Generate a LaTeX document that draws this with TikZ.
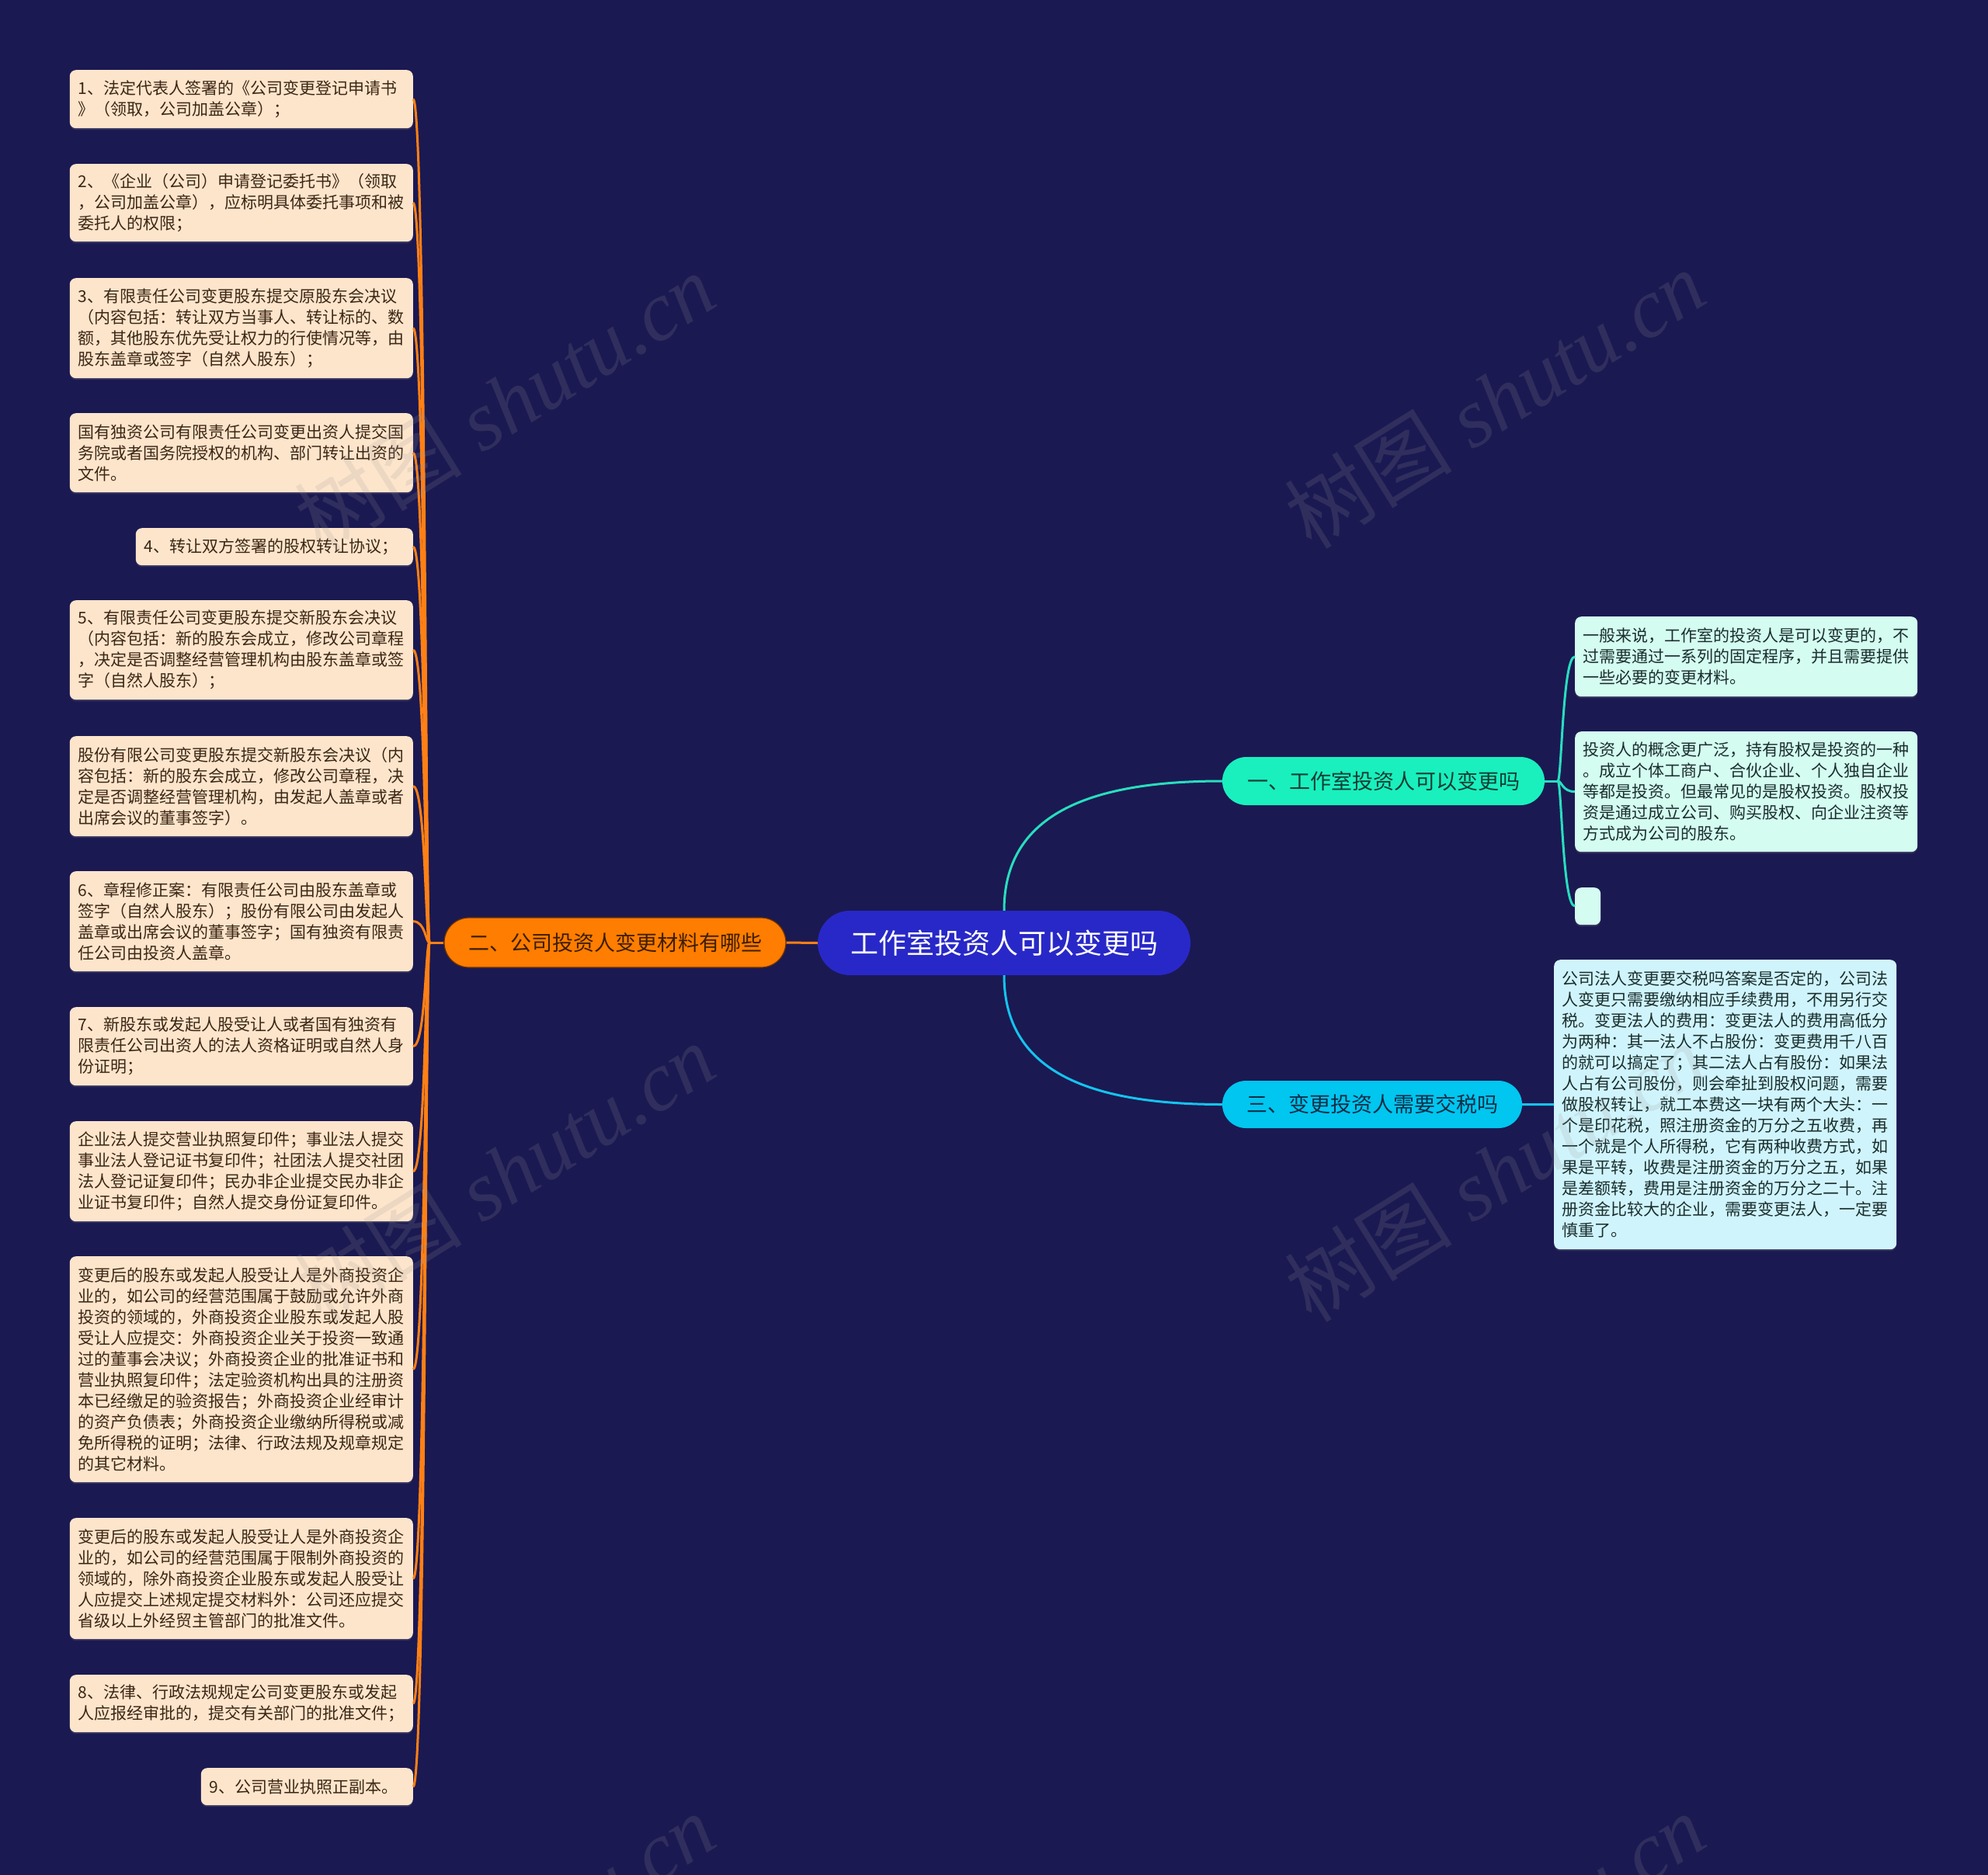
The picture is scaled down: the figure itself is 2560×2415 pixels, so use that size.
\documentclass[tikz,border=0pt]{standalone}
\usepackage{fontspec}
\newfontfamily\cjk{Noto Sans CJK SC}
\newfontfamily\wmlatin{Liberation Serif}
\usetikzlibrary{shadows}
\definecolor{bg}{RGB}{27,25,82}
\definecolor{centerc}{RGB}{40,40,200}
\definecolor{orangec}{RGB}{255,125,0}
\definecolor{orangeline}{RGB}{255,128,20}
\definecolor{orangetext}{RGB}{60,30,0}
\definecolor{aquac}{RGB}{25,240,190}
\definecolor{aqualine}{RGB}{40,222,190}
\definecolor{aquatext}{RGB}{20,60,50}
\definecolor{skyc}{RGB}{0,198,240}
\definecolor{skyline}{RGB}{20,196,238}
\definecolor{skytext}{RGB}{15,45,70}
\definecolor{peach}{RGB}{253,229,204}
\definecolor{ltext}{RGB}{60,38,20}
\definecolor{mintbox}{RGB}{212,252,240}
\definecolor{cyanbox}{RGB}{208,244,252}
\definecolor{rtext}{RGB}{25,45,45}
\definecolor{wmgray}{RGB}{150,150,150}
\begin{document}
\begin{tikzpicture}[x=1pt,y=-1pt,
  boxshadow/.style={drop shadow={opacity=0.25,shadow xshift=0pt,shadow yshift=-2pt}},
  lbox/.style={fill=peach, rounded corners=8pt, align=left, text width=420pt,
    inner xsep=11pt, inner ysep=0pt, anchor=north east, text=ltext,
    font=\cjk\fontsize{21}{27}\selectfont, boxshadow},
  rbox/.style={fill=mintbox, rounded corners=8pt, align=left, text width=421pt,
    inner xsep=10pt, inner ysep=0pt, anchor=north west, text=rtext,
    font=\cjk\fontsize{21}{27}\selectfont, boxshadow},
  pill/.style={inner sep=0pt, align=center},
  oline/.style={draw=orangeline, line width=3pt},
  aline/.style={draw=aqualine, line width=3pt},
  sline/.style={draw=skyline, line width=3pt},
  wm/.style={text=wmgray, opacity=0.17, rotate=32, inner sep=0pt}
]
\useasboundingbox (0,0) rectangle (2560,2415);
\fill[bg] (0,0) rectangle (2560,2415);

% ---------- main nodes ----------
\node[pill, fill=centerc, text=white, minimum width=480pt, minimum height=83pt,
  rounded corners=41.5pt, font=\cjk\fontsize{36}{40}\selectfont] (c) at (1293,1214.5) {工作室投资人可以变更吗};
\node[pill, fill=orangec, draw={rgb,255:red,110;green,50;blue,0}, line width=1.2pt, text=orangetext,
  minimum width=440pt, minimum height=64pt, rounded corners=32pt,
  font=\cjk\fontsize{27}{32}\selectfont] (n2) at (792,1214) {二、公司投资人变更材料有哪些};
\node[pill, fill=aquac, text=aquatext, minimum width=415pt, minimum height=62pt,
  rounded corners=31pt, font=\cjk\fontsize{27}{32}\selectfont] (n1) at (1781.5,1006) {一、工作室投资人可以变更吗};
\node[pill, fill=skyc, text=skytext, minimum width=386pt, minimum height=61pt,
  rounded corners=30.5pt, font=\cjk\fontsize{27}{32}\selectfont] (n3) at (1767,1422.5) {三、变更投资人需要交税吗};

% ---------- left boxes ----------
\node[lbox, minimum height=75pt] (b1) at (532,90) {1、法定代表人签署的《公司变更登记申请书\\》（领取，公司加盖公章）；};
\node[lbox, minimum height=100pt] (b2) at (532,211) {2、《企业（公司）申请登记委托书》（领取\\，公司加盖公章），应标明具体委托事项和被\\委托人的权限；};
\node[lbox, minimum height=129pt] (b3) at (532,358) {3、有限责任公司变更股东提交原股东会决议\\（内容包括：转让双方当事人、转让标的、数\\额，其他股东优先受让权力的行使情况等，由\\股东盖章或签字（自然人股东）；};
\node[lbox, minimum height=102pt] (b4) at (532,532) {国有独资公司有限责任公司变更出资人提交国\\务院或者国务院授权的机构、部门转让出资的\\文件。};
\node[lbox, text width=335pt, minimum height=48pt] (b5) at (532,680) {4、转让双方签署的股权转让协议；};
\node[lbox, minimum height=128pt] (b6) at (532,773) {5、有限责任公司变更股东提交新股东会决议\\（内容包括：新的股东会成立，修改公司章程\\，决定是否调整经营管理机构由股东盖章或签\\字（自然人股东）；};
\node[lbox, minimum height=129pt] (b7) at (532,948) {股份有限公司变更股东提交新股东会决议（内\\容包括：新的股东会成立，修改公司章程，决\\定是否调整经营管理机构，由发起人盖章或者\\出席会议的董事签字）。};
\node[lbox, minimum height=129pt] (b8) at (532,1122) {6、章程修正案：有限责任公司由股东盖章或\\签字（自然人股东）；股份有限公司由发起人\\盖章或出席会议的董事签字；国有独资有限责\\任公司由投资人盖章。};
\node[lbox, minimum height=101pt] (b9) at (532,1297) {7、新股东或发起人股受让人或者国有独资有\\限责任公司出资人的法人资格证明或自然人身\\份证明；};
\node[lbox, minimum height=129pt] (b10) at (532,1444) {企业法人提交营业执照复印件；事业法人提交\\事业法人登记证书复印件；社团法人提交社团\\法人登记证复印件；民办非企业提交民办非企\\业证书复印件；自然人提交身份证复印件。};
\node[lbox, minimum height=291pt] (b11) at (532,1618) {变更后的股东或发起人股受让人是外商投资企\\业的，如公司的经营范围属于鼓励或允许外商\\投资的领域的，外商投资企业股东或发起人股\\受让人应提交：外商投资企业关于投资一致通\\过的董事会决议；外商投资企业的批准证书和\\营业执照复印件；法定验资机构出具的注册资\\本已经缴足的验资报告；外商投资企业经审计\\的资产负债表；外商投资企业缴纳所得税或减\\免所得税的证明；法律、行政法规及规章规定\\的其它材料。};
\node[lbox, minimum height=156pt] (b12) at (532,1955) {变更后的股东或发起人股受让人是外商投资企\\业的，如公司的经营范围属于限制外商投资的\\领域的，除外商投资企业股东或发起人股受让\\人应提交上述规定提交材料外：公司还应提交\\省级以上外经贸主管部门的批准文件。};
\node[lbox, minimum height=74pt] (b13) at (532,2157) {8、法律、行政法规规定公司变更股东或发起\\人应报经审批的，提交有关部门的批准文件；};
\node[lbox, text width=251pt, minimum height=48pt] (b14) at (532,2277) {9、公司营业执照正副本。};

% ---------- right boxes ----------
\node[rbox, minimum height=103pt] (ra) at (2028,794) {一般来说，工作室的投资人是可以变更的，不\\过需要通过一系列的固定程序，并且需要提供\\一些必要的变更材料。};
\node[rbox, minimum height=155pt] (rb) at (2028,942) {投资人的概念更广泛，持有股权是投资的一种\\。成立个体工商户、合伙企业、个人独自企业\\等都是投资。但最常见的是股权投资。股权投\\资是通过成立公司、购买股权、向企业注资等\\方式成为公司的股东。};
\node[fill=mintbox, rounded corners=8pt, inner sep=0pt, minimum width=33pt, minimum height=48pt,
  anchor=north west, boxshadow] (rc) at (2028,1143) {};
\node[rbox, fill=cyanbox, minimum height=373pt] (rd) at (2001,1236) {公司法人变更要交税吗答案是否定的，公司法\\人变更只需要缴纳相应手续费用，不用另行交\\税。变更法人的费用：变更法人的费用高低分\\为两种：其一法人不占股份：变更费用千八百\\的就可以搞定了；其二法人占有股份：如果法\\人占有公司股份，则会牵扯到股权问题，需要\\做股权转让，就工本费这一块有两个大头：一\\个是印花税，照注册资金的万分之五收费，再\\一个就是个人所得税，它有两种收费方式，如\\果是平转，收费是注册资金的万分之五，如果\\是差额转，费用是注册资金的万分之二十。注\\册资金比较大的企业，需要变更法人，一定要\\慎重了。};

% ---------- connectors ----------
\coordinate (lt) at (553,1214);
\coordinate (rt) at (2006,1006);
\draw[oline] (c.west) -- (n2.east);
\draw[oline] (n2.west) -- (lt);
\foreach \b in {b1,b2,b3,b4,b5,b6,b7,b8,b9,b10,b11,b12,b13,b14}{
  \draw[oline] (lt) .. controls +(-5,0) and +(16,0) .. (\b.east);
}
\draw[aline] (c.north) .. controls +(0,-122) and +(-175,0) .. (n1.west);
\draw[aline] (n1.east) -- (rt);
\foreach \b in {ra,rb,rc}{
  \draw[aline] (rt) .. controls +(5,0) and +(-16,0) .. (\b.west);
}
\draw[sline] (c.south) .. controls +(0,122) and +(-175,0) .. (n3.west);
\draw[sline] (n3.east) -- (rd.west);

% ---------- watermark ----------
\begin{scope}
\clip (0,0) rectangle (2560,2415);
\foreach \wx/\wy [count=\i] in {650/518,1925/514,650/1510,1925/1510,650/2502,1925/2502}{
  \node[wm] (wm\i) at (\wx,\wy) {\cjk\fontsize{108}{118}\selectfont 树图\hspace{0.25em}\wmlatin\itshape shutu.cn};
}
\end{scope}
\end{tikzpicture}
\end{document}
